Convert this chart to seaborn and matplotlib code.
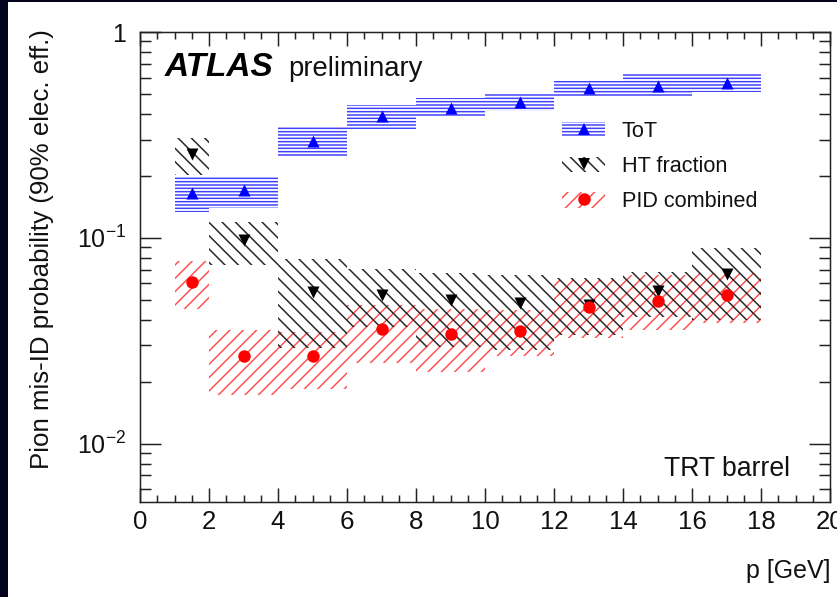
import numpy as np
import pandas as pd
import matplotlib
matplotlib.use("Agg")
import matplotlib.pyplot as plt
import matplotlib.ticker as mticker
import seaborn as sns
from matplotlib.patches import Patch, Rectangle
from matplotlib.lines import Line2D
from matplotlib.legend_handler import HandlerTuple

# Momentum bins [GeV]
bin_lo = [1, 2, 4, 6, 8, 10, 12, 14, 16]
bin_hi = [2, 4, 6, 8, 10, 12, 14, 16, 18]
p_center = [1.5, 3, 5, 7, 9, 11, 13, 15, 17]

# Time-over-threshold
tot_val = [0.165, 0.171, 0.296, 0.391, 0.426, 0.459, 0.533, 0.547, 0.564]
tot_lo = [0.134, 0.140, 0.248, 0.337, 0.391, 0.415, 0.482, 0.485, 0.510]
tot_hi = [0.198, 0.198, 0.347, 0.442, 0.477, 0.508, 0.579, 0.624, 0.624]

# High-threshold fraction
ht_val = [0.2555, 0.0974, 0.0546, 0.0526, 0.0496, 0.0481, 0.0470, 0.0550, 0.0667]
ht_lo = [0.202, 0.0737, 0.0290, 0.0369, 0.0295, 0.0284, 0.0336, 0.0410, 0.0398]
ht_hi = [0.3046, 0.1197, 0.0785, 0.0702, 0.0673, 0.0658, 0.0637, 0.0681, 0.0893]

# Combined PID
pid_val = [0.0611, 0.0266, 0.0266, 0.0360, 0.0339, 0.0352, 0.0460, 0.0492, 0.0530]
pid_lo = [0.0453, 0.0172, 0.0185, 0.0245, 0.0223, 0.0266, 0.0324, 0.0356, 0.0385]
pid_hi = [0.0770, 0.0358, 0.0349, 0.0470, 0.0453, 0.0445, 0.0622, 0.0658, 0.0671]

series_names = ["ToT", "HT fraction", "PID combined"]

sns.set_style("ticks")
plt.rcParams["font.family"] = ["Liberation Sans", "DejaVu Sans"]
plt.rcParams["mathtext.fontset"] = "custom"
plt.rcParams["mathtext.rm"] = "Liberation Sans"
plt.rcParams["mathtext.it"] = "Liberation Sans:italic"
plt.rcParams["mathtext.bf"] = "Liberation Sans:bold"
plt.rcParams["hatch.linewidth"] = 0.9

DPI = 120
fig = plt.figure(figsize=(837 / DPI, 597 / DPI), dpi=DPI, facecolor="#03031d")
# white panel inside the dark frame
fig.patches.append(Rectangle((8 / 837, 0), 1, 1 - 2 / 597, transform=fig.transFigure,
                             facecolor="white", edgecolor="none", zorder=-10))

ax = fig.add_axes([140 / 837, 1 - 502 / 597, 690 / 837, 470 / 597])
ax.set_zorder(1)
ax.set_facecolor("white")
ax.set_yscale("log")

widths = np.subtract(bin_hi, bin_lo)
bands = [
    ("PID combined", pid_lo, pid_hi, "#ff5050", "///", 1),
    ("HT fraction", ht_lo, ht_hi, "#262626", "\\\\\\", 2),
    ("ToT", tot_lo, tot_hi, "#4040ff", "------", 3),
]
band_style = {}
for name, lo, hi, col, hatch, z in bands:
    ax.bar(bin_lo, np.subtract(hi, lo), bottom=lo, width=widths, align="edge",
           facecolor="none", edgecolor=col, linewidth=0, hatch=hatch, zorder=z)
    band_style[name] = (col, hatch)

df = pd.DataFrame({
    "p": p_center * 3,
    "prob": tot_val + ht_val + pid_val,
    "method": sum([[n] * len(p_center) for n in series_names], []),
})
palette = {"ToT": "#0000ff", "HT fraction": "#000000", "PID combined": "#ff0000"}
markers = {"ToT": "^", "HT fraction": "v", "PID combined": "o"}
sizes = {"ToT": 52, "HT fraction": 52, "PID combined": 56}
for name in series_names:
    sub = df[df["method"] == name]
    sns.scatterplot(data=sub, x="p", y="prob", color=palette[name], marker=markers[name],
                    s=sizes[name], linewidth=0, ax=ax, zorder=6, legend=False)

ax.set_xlim(0, 20)
ax.set_ylim(0.0052, 1)

ax.xaxis.set_major_locator(mticker.MultipleLocator(2))
ax.xaxis.set_minor_locator(mticker.MultipleLocator(0.5))
ax.set_yticks([0.01, 0.1, 1])
ax.set_yticklabels([r"10$^{\mathregular{-2}}$", r"10$^{\mathregular{-1}}$", "1"])
ax.yaxis.set_minor_locator(mticker.LogLocator(base=10, subs=np.arange(2, 10)))
ax.yaxis.set_minor_formatter(mticker.NullFormatter())

px = 72 / DPI
ax.tick_params(axis="both", which="both", direction="in", top=True, right=True,
               colors="#222222", labelcolor="#111111", width=1.5 * px)
ax.tick_params(axis="x", which="major", length=14 * px, labelsize=15.5, pad=8 * px)
ax.tick_params(axis="x", which="minor", length=7 * px)
ax.tick_params(axis="y", which="major", length=21 * px, labelsize=15, pad=14 * px)
ax.tick_params(axis="y", which="minor", length=11 * px)
for sp in ax.spines.values():
    sp.set_linewidth(1.5 * px)
    sp.set_color("#222222")
    sp.set_visible(True)

ax.set_xlabel("p [GeV]", fontsize=15, loc="right", color="#111111")
ax.xaxis.set_label_coords(1.0, -0.122)
ax.set_ylabel("Pion mis-ID probability (90% elec. eff.)", fontsize=15.5, loc="top",
              color="#111111")
ax.yaxis.set_label_coords(-0.1245, 1.006)

ax.text(0.036, 0.906, "ATLAS", transform=ax.transAxes, fontsize=20, fontweight="bold",
        fontstyle="italic", color="black")
ax.text(0.2145, 0.906, "preliminary", transform=ax.transAxes, fontsize=16.5, color="#111111")
ax.text(0.942, 0.055, "TRT barrel", transform=ax.transAxes, fontsize=16, ha="right",
        color="#111111")

handles = []
for name in series_names:
    col, hatch = band_style[name]
    patch = Patch(facecolor="none", edgecolor=col, hatch=hatch, linewidth=0)
    mark = Line2D([], [], linestyle="none", marker=markers[name], color=palette[name],
                  markersize=7.5, markeredgewidth=0)
    handles.append((patch, mark))
leg = ax.legend(handles, series_names, handler_map={tuple: HandlerTuple(ndivide=1)},
                loc="upper left", bbox_to_anchor=((562 - 140) / 690, (502 - 121) / 470),
                frameon=False, fontsize=13, borderpad=0, borderaxespad=0,
                handlelength=2.0, handleheight=0.75, handletextpad=0.75, labelspacing=0.65)
for t in leg.get_texts():
    t.set_color("#111111")

fig.savefig("out.png", dpi=DPI, facecolor=fig.get_facecolor())
